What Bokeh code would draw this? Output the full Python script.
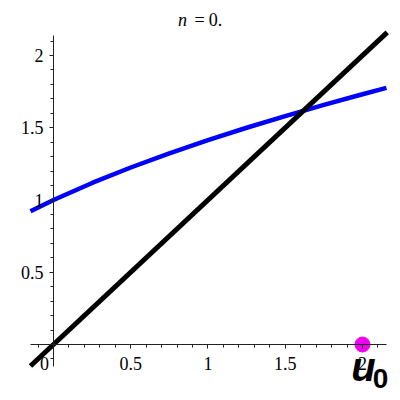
from bokeh.plotting import figure
from bokeh.models import Range1d, Label, FixedTicker
from bokeh.embed import file_html
from bokeh.resources import INLINE

# data
curve_x = [-0.149, 0.0, 0.25, 0.5, 0.75, 1.0, 1.25, 1.5, 1.75, 2.0, 2.155]
curve_y = [0.922, 1.0, 1.118, 1.225, 1.323, 1.414, 1.5, 1.581, 1.658, 1.732, 1.776]
diag_x = [-0.149, 2.16]
diag_y = [-0.149, 2.16]
u0_x = [2.0]
u0_y = [0.0]
x_ticks = [0.5, 1.0, 1.5, 2.0]
y_ticks = [0.5, 1.0, 1.5, 2.0]
x_minor = [round(-0.1 + 0.1 * i, 2) for i in range(23)]
y_minor = [round(-0.1 + 0.1 * i, 2) for i in range(23)]

p = figure(width=400, height=400, x_range=Range1d(-0.3430, 2.2460),
           y_range=Range1d(-0.3875, 2.3806), output_backend="svg",
           toolbar_location=None, min_border=0)
p.outline_line_color = None
p.xgrid.visible = False
p.ygrid.visible = False

p.line(curve_x, curve_y, line_color="#0000FF", line_width=4.5)
p.line(diag_x, diag_y, line_color="black", line_width=5)
p.scatter(u0_x, u0_y, size=15, fill_color="#F000F0", line_color="#F000F0")

for ax, ticks, minor in ((p.xaxis, x_ticks, x_minor), (p.yaxis, y_ticks, y_minor)):
    ax.fixed_location = 0
    ax.ticker = FixedTicker(ticks=ticks, minor_ticks=minor)
    ax.major_tick_in = 0
    ax.major_tick_out = 4
    ax.minor_tick_in = 0
    ax.minor_tick_out = 3
    ax.axis_line_color = "#222222"
    ax.major_tick_line_color = "#222222"
    ax.minor_tick_line_color = "#222222"
    ax.major_label_text_font = "Liberation Serif"
    ax.major_label_text_font_size = "18px"
    ax.major_label_text_color = "black"
p.xaxis.major_label_standoff = 8
p.yaxis.major_label_standoff = 6
p.xaxis.bounds = (-0.149, 2.155)
p.yaxis.bounds = (-0.149, 2.14)

serif = "Liberation Serif"
p.add_layout(Label(x=0, y=0, text="0", x_offset=-9, y_offset=-12,
                   text_align="center", text_baseline="top", text_color="black",
                   text_font=serif, text_font_size="18px"))
p.add_layout(Label(x=2.0, y=0, text="u", x_offset=1, y_offset=0,
                   text_align="center", text_baseline="top", text_color="black",
                   text_font="Liberation Sans", text_font_style="bold italic",
                   text_font_size="40px"))
p.add_layout(Label(x=2.0, y=0, text="0", x_offset=18, y_offset=-24,
                   text_align="center", text_baseline="top", text_color="black",
                   text_font="Liberation Sans", text_font_style="bold",
                   text_font_size="28px"))
p.add_layout(Label(x=0.8188, y=2.3806, text="n", x_offset=2.5, y_offset=-19,
                   text_align="center", text_baseline="middle", text_color="black",
                   text_font=serif, text_font_style="italic", text_font_size="18px"))
p.add_layout(Label(x=0.8188, y=2.3806, text="=", x_offset=19.5, y_offset=-19,
                   text_align="center", text_baseline="middle", text_color="black",
                   text_font=serif, text_font_size="18px"))
p.add_layout(Label(x=0.8188, y=2.3806, text="0.", x_offset=35.5, y_offset=-19,
                   text_align="center", text_baseline="middle", text_color="black",
                   text_font=serif, text_font_size="18px"))

open("out.html", "w").write(file_html(p, INLINE))
